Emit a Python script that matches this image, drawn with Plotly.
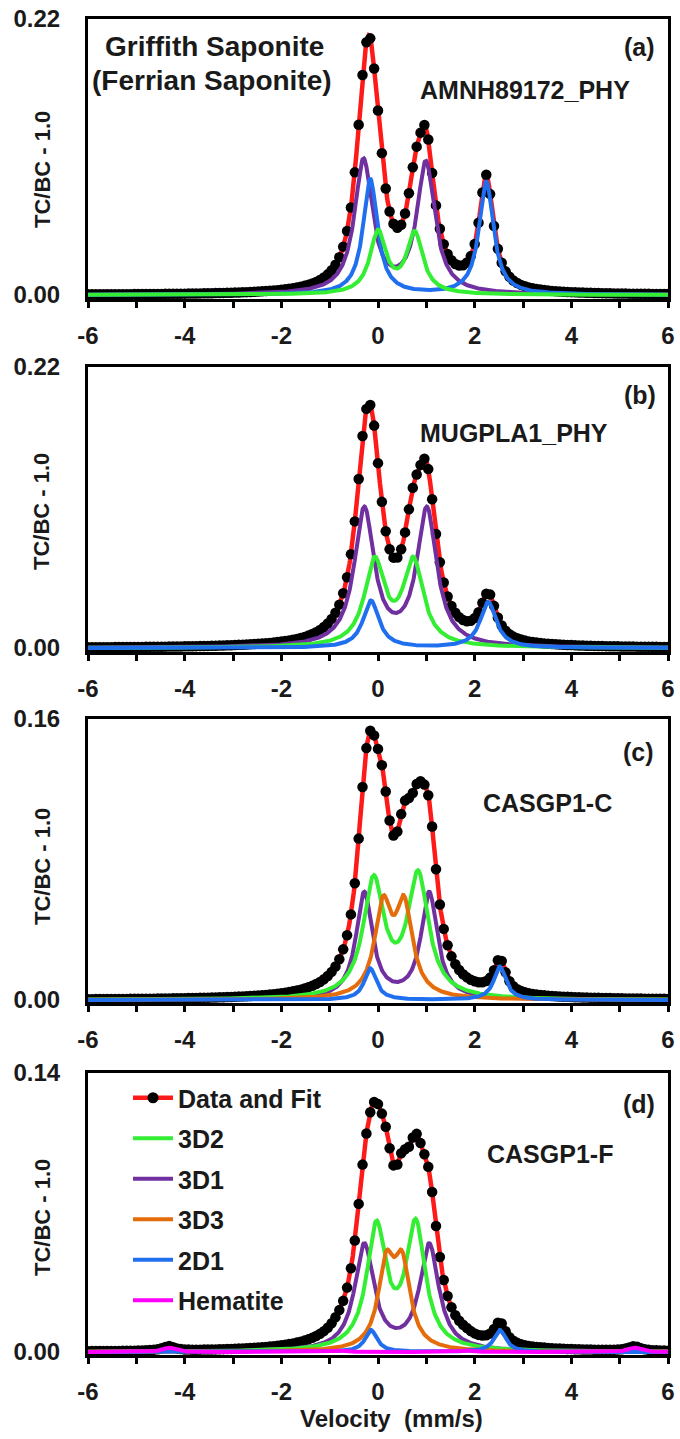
import numpy as np
import plotly.graph_objects as go

# ---------------- data ----------------
panel_labels = ["(a)", "(b)", "(c)", "(d)"]
sample_names = ["AMNH89172_PHY", "MUGPLA1_PHY", "CASGP1-C", "CASGP1-F"]
y_max = [0.22, 0.22, 0.16, 0.14]
y_min = [-0.0032, -0.0031, -0.0017, -0.0015]
y_tick_text = [["0.00", "0.22"], ["0.00", "0.22"], ["0.00", "0.16"], ["0.00", "0.14"]]
x_tick_values = [-6, -5, -4, -3, -2, -1, 0, 1, 2, 3, 4, 5, 6]
x_tick_text = ["-6", "", "-4", "", "-2", "", "0", "", "2", "", "4", "", "6"]

# Lorentzian doublets: [left position, right position, left height, right height, HWHM] (mm/s, TC/BC-1)
# panel (a)
a_3D1 = [-0.30, 0.99, 0.106, 0.104, 0.224]
a_2D1 = [-0.16, 2.24, 0.092, 0.090, 0.18]
a_3D2 = [0.00, 0.76, 0.049, 0.048, 0.20]
# panel (b)
b_3D1 = [-0.284, 1.01, 0.107, 0.107, 0.248]
b_3D2 = [-0.07, 0.73, 0.0657, 0.0657, 0.25]
b_2D1 = [-0.145, 2.28, 0.037, 0.036, 0.20]
# panel (c)
c_3D1 = [-0.284, 1.06, 0.0603, 0.0603, 0.205]
c_3D2 = [-0.09, 0.83, 0.066, 0.069, 0.26]
c_3D3 = [0.105, 0.54, 0.050, 0.050, 0.21]
c_2D1 = [-0.16, 2.52, 0.018, 0.019, 0.15]
# panel (d)
d_3D1 = [-0.284, 1.06, 0.053, 0.053, 0.24]
d_3D2 = [-0.033, 0.78, 0.061, 0.062, 0.24]
d_3D3 = [0.17, 0.50, 0.040, 0.040, 0.20]
d_2D1 = [-0.145, 2.52, 0.011, 0.011, 0.15]
d_hematite_positions = [-4.33, -0.83, 1.80, 5.30]
d_hematite_heights = [0.0022, 0.0008, 0.0008, 0.0022]
d_hematite_hwhm = 0.15

# velocity channels of the measured spectrum
channel_step = 0.08

colors = {"fit": "#FF1A1A", "data": "#000000", "3D2": "#33EE33", "3D1": "#7030A0",
          "3D3": "#E46C0A", "2D1": "#1F6FEF", "Hematite": "#FF00FF"}
legend_rank = {"Data and Fit": 1, "3D2": 2, "3D1": 3, "3D3": 4, "2D1": 5, "Hematite": 6}

# component order = drawing order (last drawn lies on top)
panels = [
    [("3D1", a_3D1), ("2D1", a_2D1), ("3D2", a_3D2)],
    [("3D1", b_3D1), ("3D2", b_3D2), ("2D1", b_2D1)],
    [("3D1", c_3D1), ("3D2", c_3D2), ("3D3", c_3D3), ("2D1", c_2D1)],
    [("3D1", d_3D1), ("3D2", d_3D2), ("3D3", d_3D3), ("2D1", d_2D1), ("Hematite", None)],
]

# ---------------- curves ----------------
v_fine = np.linspace(-6, 6, 1201)
v_data = np.arange(-6, 6 + 1e-9, channel_step)


def lorentz(v, pos, h, g):
    return h / (1.0 + ((v - pos) / g) ** 2)


def doublet(v, p):
    return lorentz(v, p[0], p[2], p[4]) + lorentz(v, p[1], p[3], p[4])


def hematite(v):
    out = np.zeros_like(v)
    for pos, h in zip(d_hematite_positions, d_hematite_heights):
        out += lorentz(v, pos, h, d_hematite_hwhm)
    return out


def component(v, name, p):
    return hematite(v) if name == "Hematite" else doublet(v, p)


# ---------------- figure ----------------
W, H = 680, 1439
ml, mr, mt, mb = 88, 12, 19, 84
pw, ph = W - ml - mr, H - mt - mb
panel_px = [(19, 299), (367, 652), (719, 1003), (1073, 1355)]


def py(y):
    return (H - mb - y) / ph


def px(x):
    return (x - ml) / pw


fig = go.Figure()
font_family = "Liberation Sans, Arial, sans-serif"

for i, comps in enumerate(panels):
    xa = "x" if i == 0 else f"x{i+1}"
    ya = "y" if i == 0 else f"y{i+1}"
    fit = np.zeros_like(v_fine)
    dat = np.zeros_like(v_data)
    for name, p in comps:
        fit += component(v_fine, name, p)
        dat += component(v_data, name, p)
    fig.add_trace(go.Scatter(x=v_fine, y=fit, mode="lines", xaxis=xa, yaxis=ya,
                             line=dict(color=colors["fit"], width=4.5), showlegend=False,
                             hoverinfo="skip"))
    fig.add_trace(go.Scatter(x=v_data, y=dat, mode="markers", xaxis=xa, yaxis=ya,
                             marker=dict(color=colors["data"], size=10.5), showlegend=False))
    for name, p in comps:
        fig.add_trace(go.Scatter(x=v_fine, y=component(v_fine, name, p), mode="lines",
                                 xaxis=xa, yaxis=ya, name=name,
                                 line=dict(color=colors[name], width=4),
                                 showlegend=(i == 3), legendrank=legend_rank[name],
                                 legendgroup=name if i == 3 else None))
    if i == 3:
        fig.add_trace(go.Scatter(x=[None], y=[None], mode="lines+markers", name="Data and Fit",
                                 xaxis=xa, yaxis=ya, legendgroup="datafit",
                                 line=dict(color=colors["fit"], width=4.5),
                                 marker=dict(color=colors["data"], size=11),
                                 legendrank=legend_rank["Data and Fit"]))

    top, bot = panel_px[i]
    axis_common = dict(showline=True, linecolor="black", linewidth=3, mirror=True,
                       showgrid=False, zeroline=False, automargin=False)
    fig.layout[f"xaxis{'' if i == 0 else i+1}"] = dict(
        domain=[0, 1], anchor=ya, range=[-6, 6], tickmode="array",
        tickvals=x_tick_values, ticktext=x_tick_text, ticks="outside", ticklen=6,
        tickwidth=2.5, tickcolor="black", ticklabelstandoff=7,
        tickfont=dict(family=font_family, size=24, color="#1a1a1a", weight="bold"), **axis_common)
    fig.layout[f"yaxis{'' if i == 0 else i+1}"] = dict(
        domain=[py(bot), py(top)], anchor=xa, range=[y_min[i], y_max[i]], tickmode="array",
        tickvals=[0, y_max[i]], ticktext=y_tick_text[i], ticks="", ticklabelstandoff=20,
        tickfont=dict(family=font_family, size=24, color="#1a1a1a", weight="bold"), **axis_common)

ann_font = dict(family=font_family, color="#1a1a1a", weight="bold")
annotations = []


def note(x, y, text, size, angle=0):
    annotations.append(dict(x=px(x), y=py(y), xref="paper", yref="paper", text=text,
                            textangle=angle, showarrow=False, xanchor="center", yanchor="middle",
                            font=dict(size=size, **ann_font)))


title_y = [170, 512, 867, 1218]
label_pos = [(639, 47), (640, 395), (638, 752), (639, 1104)]
sample_pos = [(525, 90), (514, 433), (547, 803), (550, 1154)]
for i in range(4):
    note(42, title_y[i], "TC/BC - 1.0", 22, -90)
    note(label_pos[i][0], label_pos[i][1], panel_labels[i], 25)
    note(sample_pos[i][0], sample_pos[i][1], sample_names[i], 25)
note(214, 46, "Griffith Saponite", 28)
note(212, 81, "(Ferrian Saponite)", 28)
note(391, 1418, "Velocity  (mm/s)", 24)

fig.update_layout(
    width=W, height=H, margin=dict(l=ml, r=mr, t=mt, b=mb, autoexpand=False),
    paper_bgcolor="white", plot_bgcolor="white",
    annotations=annotations,
    legend=dict(x=px(128), y=py(1075), xanchor="left", yanchor="top", tracegroupgap=5.0,
                bgcolor="rgba(0,0,0,0)",
                font=dict(family=font_family, size=25, color="#1a1a1a", weight="bold"),
                itemwidth=40),
    showlegend=True,
)

fig.write_html("out.html", config={"displayModeBar": False},
               post_script="document.body.style.margin='0px';")
